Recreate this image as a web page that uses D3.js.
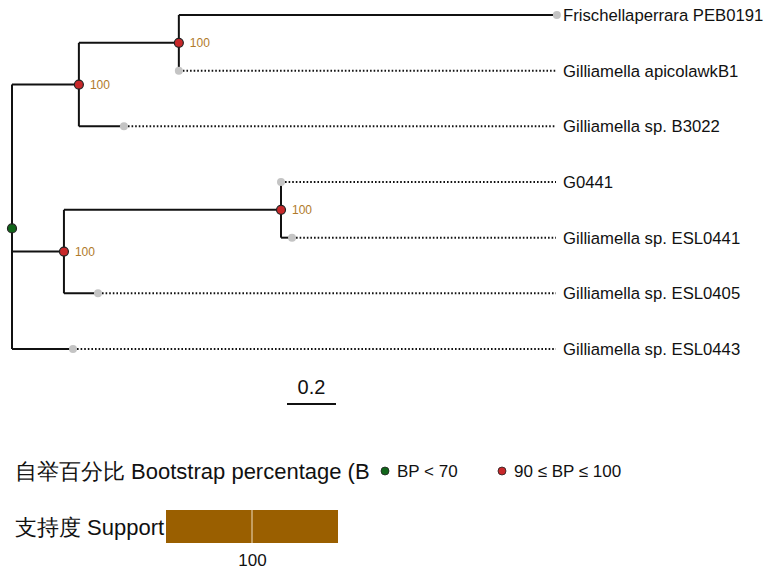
<!DOCTYPE html>
<html>
<head>
<meta charset="utf-8">
<style>
body { margin:0; background:#fff; }
text { font-family: "Liberation Sans", Arial, sans-serif; }
</style>
</head>
<body>
<script src="https://cdn.jsdelivr.net/npm/d3@7"></script>
<script>

// leaf names, top to bottom
var leafNames = ["Frischellaperrara PEB0191", "Gilliamella apicolawkB1", "Gilliamella sp. B3022",
                 "G0441", "Gilliamella sp. ESL0441", "Gilliamella sp. ESL0405", "Gilliamella sp. ESL0443"];
// branch lengths (substitutions/site)
var leafLengths = [1.543, 0, 0.184, 0, 0.045, 0.139, 0.249];
// internal nodes: [name, length, bootstrap]
var innerNodes = [["A", 0.273, 100], ["A1", 0.408, 100], ["B", 0.212, 100], ["B1", 0.886, 100]];
var bpClasses = ["BP < 70", "90 \u2264 BP \u2264 100"];
var bpColors = ["#11661a", "#c8282a"];
var supportTicks = ["100"];

function leaf(i) { return {name: leafNames[i], length: leafLengths[i]}; }
function inner(i, kids) { return {name: innerNodes[i][0], length: innerNodes[i][1], bp: innerNodes[i][2], children: kids}; }

var tree = {name: "root", length: 0, bp: 50, children: [
  inner(0, [inner(1, [leaf(0), leaf(1)]), leaf(2)]),
  inner(2, [inner(3, [leaf(3), leaf(4)]), leaf(5)]),
  leaf(6)
]};

var svg = d3.select("body").append("svg").attr("width", 782).attr("height", 570);

var root = d3.hierarchy(tree);
root.eachBefore(function(d) { d.dist = (d.parent ? d.parent.dist : 0) + d.data.length; });

var x = d3.scaleLinear().domain([0, 1]).range([12, 257]);
var y = d3.scaleLinear().domain([0, leafNames.length - 1]).range([15, 349]);
var labelX = 556;

var li = 0;
root.eachAfter(function(d) {
  if (!d.children) d.yy = y(li++);
  else d.yy = d3.mean(d.children, function(c) { return c.yy; });
  d.xx = x(d.dist);
});

var g = svg.append("g");

// elbows
root.descendants().forEach(function(d) {
  if (d.children) {
    var ys = d.children.map(function(c) { return c.yy; });
    g.append("line").attr("x1", d.xx).attr("x2", d.xx)
      .attr("y1", d3.min(ys)).attr("y2", d3.max(ys))
      .attr("stroke", "#111").attr("stroke-width", 2);
  }
  if (d.parent) {
    g.append("line").attr("x1", d.parent.xx).attr("x2", d.xx)
      .attr("y1", d.yy).attr("y2", d.yy)
      .attr("stroke", "#111").attr("stroke-width", 2);
  }
});

var leaves = root.leaves();

// dotted guides to the labels
g.selectAll(".guide").data(leaves.filter(function(d) { return d.xx < labelX - 10; }))
  .enter().append("line")
  .attr("x1", function(d) { return d.xx + 4; }).attr("x2", labelX)
  .attr("y1", function(d) { return d.yy; }).attr("y2", function(d) { return d.yy; })
  .attr("stroke", "#111").attr("stroke-width", 2).attr("stroke-dasharray", "1.6,2");

g.selectAll(".tip").data(leaves).enter().append("circle")
  .attr("cx", function(d) { return d.xx; }).attr("cy", function(d) { return d.yy; })
  .attr("r", 4).attr("fill", "#c4c4c4");

g.selectAll(".lab").data(leaves).enter().append("text")
  .attr("x", 563).attr("y", function(d) { return d.yy; })
  .attr("dy", "0.35em").attr("font-size", 16.7).attr("fill", "#111")
  .text(function(d) { return d.data.name; });

var inners = root.descendants().filter(function(d) { return d.children; });
g.selectAll(".node").data(inners).enter().append("circle")
  .attr("cx", function(d) { return d.xx; }).attr("cy", function(d) { return d.yy; })
  .attr("r", 4.5)
  .attr("fill", function(d) { return d.data.bp < 70 ? bpColors[0] : bpColors[1]; })
  .attr("stroke", "#222").attr("stroke-width", 1.2);

g.selectAll(".bp").data(inners.filter(function(d) { return d.data.bp >= 90; }))
  .enter().append("text")
  .attr("x", function(d) { return d.xx + 11; }).attr("y", function(d) { return d.yy; })
  .attr("dy", "0.35em").attr("font-size", 12).attr("fill", "#b07a2a")
  .text(function(d) { return d.data.bp; });

// scale bar
svg.append("line").attr("x1", x(0) + 275).attr("x2", x(0.2) + 275)
  .attr("y1", 404).attr("y2", 404).attr("stroke", "#111").attr("stroke-width", 2);
svg.append("text").attr("x", (x(0) + x(0.2)) / 2 + 275).attr("y", 394)
  .attr("text-anchor", "middle").attr("font-size", 20).attr("fill", "#111").text("0.2");

// legend: bootstrap
svg.append("text").attr("x", 15).attr("y", 479).attr("font-size", 22).attr("fill", "#111")
  .text("自举百分比 Bootstrap percentage (B");
var lx = [385, 502];
bpClasses.forEach(function(t, i) {
  svg.append("circle").attr("cx", lx[i]).attr("cy", 471).attr("r", 4)
    .attr("fill", bpColors[i]).attr("stroke", "#222").attr("stroke-width", 0.8);
  svg.append("text").attr("x", lx[i] + 12).attr("y", 477).attr("font-size", 17).attr("fill", "#111").text(t);
});

// legend: support
svg.append("text").attr("x", 15).attr("y", 535).attr("font-size", 22).attr("fill", "#111")
  .text("支持度 Support");
var sx = d3.scalePoint().domain(supportTicks).range([166, 338]).padding(0.5);
svg.append("rect").attr("x", 166).attr("y", 510).attr("width", 172).attr("height", 33).attr("fill", "#9a5f00");
var ax = svg.append("g").attr("transform", "translate(0,543)")
  .call(d3.axisBottom(sx).tickSize(0).tickPadding(11));
ax.select(".domain").remove();
ax.selectAll("text").attr("font-size", 17).attr("fill", "#111").attr("font-family", "Liberation Sans, Arial, sans-serif");
svg.selectAll(".stick").data(supportTicks).enter().append("line")
  .attr("x1", function(d) { return sx(d); }).attr("x2", function(d) { return sx(d); })
  .attr("y1", 510).attr("y2", 543).attr("stroke", "#f0dfc0").attr("stroke-width", 1);

</script>
</body>
</html>
